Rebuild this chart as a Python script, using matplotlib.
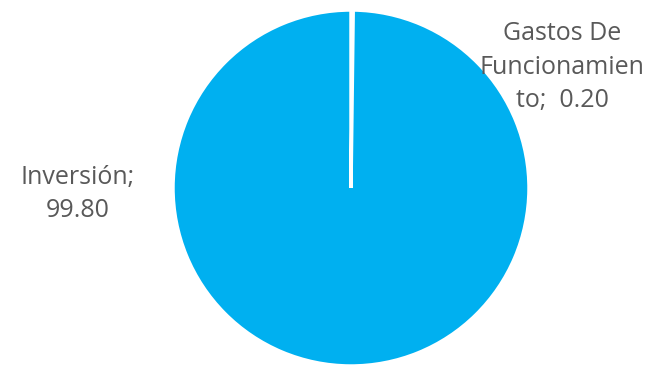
import matplotlib.pyplot as plt

labels = ["Gastos De\nFuncionamien\nto;", "Inversión;\n"]
values = [0.20, 99.80]
colors = ["#00B0F0", "#00B0F0"]

# label anchor positions in pixels (x, y from top)
label_pos = [(562, 67), (78, 194)]

fig = plt.figure(figsize=(6.5, 3.7), dpi=100)
ax = fig.add_axes([0, 0, 1, 1])

ax.pie(values, colors=colors, startangle=90, counterclock=False,
       center=(351, 370 - 188), radius=178, frame=True,
       wedgeprops=dict(edgecolor="white", linewidth=2.5))
ax.set_xlim(0, 650)
ax.set_ylim(0, 370)
ax.set_aspect("equal")
ax.axis("off")

for lab, val, (x, y) in zip(labels, values, label_pos):
    if lab.endswith("\n"):
        txt = f"{lab}{val:.2f}"
    else:
        txt = f"{lab}  {val:.2f}"
    ax.text(x, 370 - y, txt, ha="center", va="center", fontsize=18,
            color="#595959", family="Open Sans", linespacing=1.45)

fig.savefig("out.png", dpi=100)
